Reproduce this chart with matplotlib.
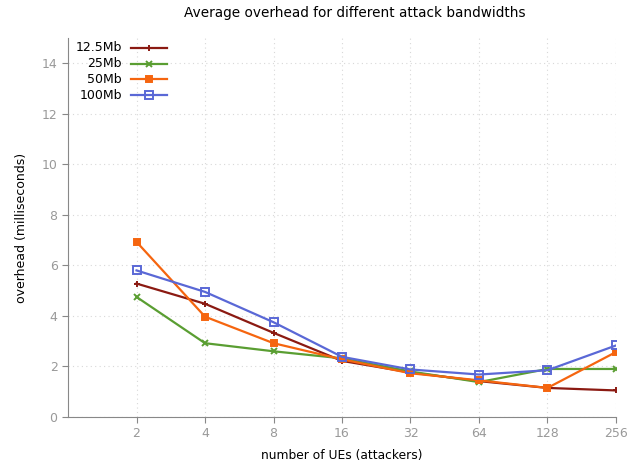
import numpy as np
import matplotlib
matplotlib.use("Agg")
import matplotlib.pyplot as plt

# number of UEs (attackers)
ues = [2, 4, 8, 16, 32, 64, 128, 256]

# average overhead in milliseconds per attack bandwidth
bw_12_5 = [5.28, 4.48, 3.33, 2.22, 1.76, 1.42, 1.15, 1.05]
bw_25 = [4.75, 2.92, 2.60, 2.32, 1.80, 1.38, 1.90, 1.90]
bw_50 = [6.93, 3.97, 2.92, 2.28, 1.73, 1.45, 1.15, 2.57]
bw_100 = [5.80, 4.95, 3.75, 2.38, 1.88, 1.68, 1.85, 2.83]

labels = ['12.5Mb', '25Mb', '50Mb', '100Mb']
series = [bw_12_5, bw_25, bw_50, bw_100]
colors = ['#8b1a12', '#5a9e32', '#f5650f', '#5a68d6']
markers = ['+', 'x', 's', 's']
mfaces = ['#8b1a12', '#5a9e32', '#f5650f', 'none']
msizes = [5, 5, 4.5, 6]

fig = plt.figure(figsize=(6.37, 4.63), dpi=100)
ax = fig.add_axes([0.1068, 0.0994, 0.8602, 0.8186])

x = np.log2(ues)
for vals, lab, c, m, mf, ms in zip(series, labels, colors, markers, mfaces, msizes):
    ax.plot(x, vals, color=c, lw=1.6, marker=m, markersize=ms,
            markerfacecolor=mf, markeredgecolor=c, markeredgewidth=1.4, label=lab)

ax.set_xlim(0, 8)
ax.set_ylim(0, 15)
ax.set_xticks(x)
ax.set_xticklabels([str(u) for u in ues])
ax.set_yticks(range(0, 15, 2))

ax.grid(True, color='#d8d8d8', linestyle=(0, (1, 3)), linewidth=0.8)
ax.set_axisbelow(True)
for s in ['top', 'right']:
    ax.spines[s].set_visible(False)
for s in ['left', 'bottom']:
    ax.spines[s].set_color('#888888')
ax.tick_params(colors='#888888', labelcolor='#999999', labelsize=9, length=4, direction='out')

ax.set_title('Average overhead for different attack bandwidths', fontsize=9.8, pad=15, x=0.524)
ax.set_xlabel('number of UEs (attackers)', fontsize=8.8, labelpad=6)
ax.set_ylabel('overhead (milliseconds)', fontsize=9, labelpad=10)

# gnuplot-style key: right-aligned labels followed by the sample line
for i, (lab, c, m, mf, ms) in enumerate(zip(labels, colors, markers, mfaces, msizes)):
    yy = 0.974 - i * 0.0415
    ax.text(0.098, yy, lab, transform=ax.transAxes, ha='right', va='center', fontsize=9)
    ax.plot([0.115, 0.1475, 0.18], [yy, yy, yy], transform=ax.transAxes, clip_on=False,
            color=c, lw=1.6, marker=m, markevery=[1], markersize=ms,
            markerfacecolor=mf, markeredgecolor=c, markeredgewidth=1.4)

fig.savefig('out.png', dpi=100)
